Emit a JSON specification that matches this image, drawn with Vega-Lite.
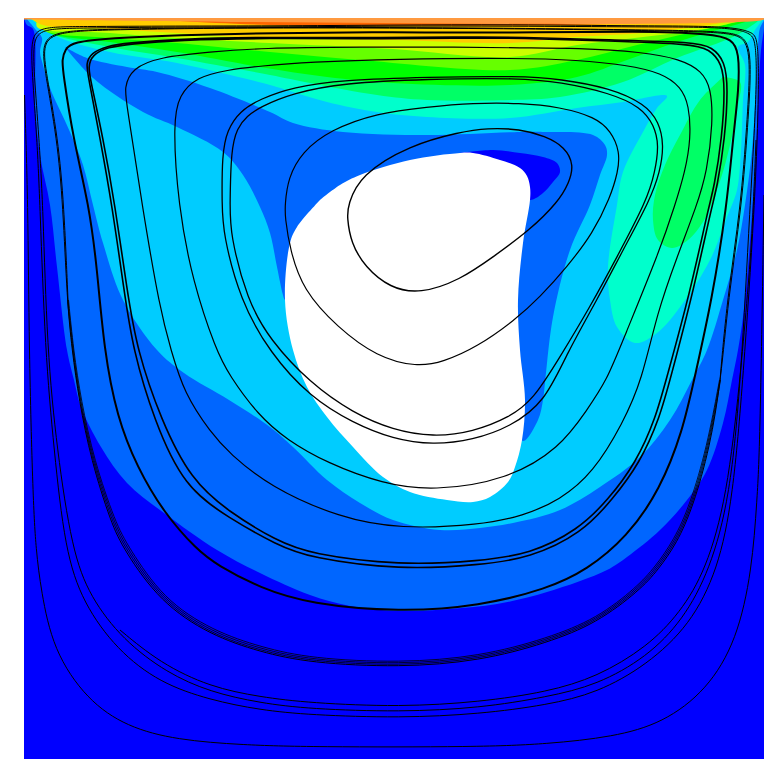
{"$schema":"https://vega.github.io/schema/vega-lite/v6.json","width":740,"height":741,"autosize":{"type":"none"},"padding":{"left":24,"top":18,"right":19,"bottom":25},"background":"white","config":{"view":{"stroke":null,"fill":"#0000ff"}},
"datasets":{"regions":[
{"p":"a","x":24,"y":18},{"p":"a","x":27,"y":25},{"p":"a","x":33,"y":29},{"p":"a","x":35,"y":105},{"p":"a","x":40,"y":155},{"p":"a","x":50,"y":205},{"p":"a","x":57,"y":267},{"p":"a","x":67,"y":350},{"p":"a","x":74,"y":380},{"p":"a","x":81,"y":407},{"p":"a","x":101,"y":447},{"p":"a","x":127,"y":483},{"p":"a","x":164,"y":513},{"p":"a","x":217,"y":550},{"p":"a","x":260,"y":573},{"p":"a","x":310,"y":595},{"p":"a","x":350,"y":606},{"p":"a","x":400,"y":611},{"p":"a","x":450,"y":609},{"p":"a","x":497,"y":604},{"p":"a","x":547,"y":592},{"p":"a","x":607,"y":570},{"p":"a","x":627,"y":557},{"p":"a","x":660,"y":530},{"p":"a","x":687,"y":500},{"p":"a","x":707,"y":470},{"p":"a","x":723,"y":423},{"p":"a","x":732,"y":380},{"p":"a","x":738,"y":350},{"p":"a","x":743,"y":317},{"p":"a","x":748,"y":267},{"p":"a","x":753,"y":200},{"p":"a","x":756,"y":150},{"p":"a","x":758,"y":100},{"p":"a","x":761,"y":50},{"p":"a","x":764,"y":28},{"p":"a","x":764,"y":18},
{"p":"b","x":26,"y":18},{"p":"b","x":36,"y":30},{"p":"b","x":42,"y":38},{"p":"b","x":40,"y":52},{"p":"b","x":43,"y":65},{"p":"b","x":50,"y":88},{"p":"b","x":70,"y":132},{"p":"b","x":83,"y":165},{"p":"b","x":93,"y":205},{"p":"b","x":103,"y":243},{"p":"b","x":123,"y":300},{"p":"b","x":157,"y":350},{"p":"b","x":184,"y":373},{"p":"b","x":229,"y":400},{"p":"b","x":270,"y":427},{"p":"b","x":293,"y":447},{"p":"b","x":327,"y":480},{"p":"b","x":360,"y":503},{"p":"b","x":393,"y":520},{"p":"b","x":440,"y":530},{"p":"b","x":480,"y":528},{"p":"b","x":513,"y":523},{"p":"b","x":560,"y":510},{"p":"b","x":600,"y":487},{"p":"b","x":640,"y":457},{"p":"b","x":670,"y":420},{"p":"b","x":692,"y":380},{"p":"b","x":707,"y":350},{"p":"b","x":723,"y":300},{"p":"b","x":737,"y":250},{"p":"b","x":745,"y":205},{"p":"b","x":752,"y":150},{"p":"b","x":755,"y":105},{"p":"b","x":758,"y":45},{"p":"b","x":760,"y":28},{"p":"b","x":764,"y":20},{"p":"b","x":764,"y":18},
{"p":"c","x":30,"y":18},{"p":"c","x":53,"y":35},{"p":"c","x":110,"y":52},{"p":"c","x":177,"y":63},{"p":"c","x":270,"y":85},{"p":"c","x":293,"y":92},{"p":"c","x":327,"y":102},{"p":"c","x":377,"y":112},{"p":"c","x":427,"y":117},{"p":"c","x":510,"y":118},{"p":"c","x":577,"y":108},{"p":"c","x":623,"y":102},{"p":"c","x":667,"y":96},{"p":"c","x":657,"y":108},{"p":"c","x":643,"y":132},{"p":"c","x":623,"y":172},{"p":"c","x":617,"y":205},{"p":"c","x":608,"y":267},{"p":"c","x":610,"y":300},{"p":"c","x":617,"y":327},{"p":"c","x":635,"y":343},{"p":"c","x":657,"y":333},{"p":"c","x":683,"y":303},{"p":"c","x":710,"y":260},{"p":"c","x":727,"y":217},{"p":"c","x":737,"y":190},{"p":"c","x":741,"y":150},{"p":"c","x":743,"y":100},{"p":"c","x":745,"y":65},{"p":"c","x":738,"y":47},{"p":"c","x":748,"y":42},{"p":"c","x":755,"y":30},{"p":"c","x":764,"y":18},
{"p":"d","x":32,"y":18},{"p":"d","x":50,"y":33},{"p":"d","x":110,"y":47},{"p":"d","x":177,"y":58},{"p":"d","x":270,"y":75},{"p":"d","x":310,"y":83},{"p":"d","x":377,"y":95},{"p":"d","x":427,"y":100},{"p":"d","x":510,"y":100},{"p":"d","x":560,"y":97},{"p":"d","x":623,"y":82},{"p":"d","x":677,"y":58},{"p":"d","x":737,"y":35},{"p":"d","x":762,"y":18},
{"p":"e","x":34,"y":18},{"p":"e","x":47,"y":32},{"p":"e","x":110,"y":42},{"p":"e","x":177,"y":52},{"p":"e","x":260,"y":67},{"p":"e","x":327,"y":77},{"p":"e","x":393,"y":83},{"p":"e","x":510,"y":85},{"p":"e","x":577,"y":77},{"p":"e","x":627,"y":60},{"p":"e","x":677,"y":42},{"p":"e","x":717,"y":30},{"p":"e","x":760,"y":18},
{"p":"f","x":36,"y":18},{"p":"f","x":43,"y":30},{"p":"f","x":110,"y":38},{"p":"f","x":177,"y":43},{"p":"f","x":270,"y":52},{"p":"f","x":360,"y":60},{"p":"f","x":510,"y":70},{"p":"f","x":577,"y":60},{"p":"f","x":637,"y":45},{"p":"f","x":693,"y":32},{"p":"f","x":755,"y":18},
{"p":"g","x":38,"y":18},{"p":"g","x":37,"y":27},{"p":"g","x":110,"y":33},{"p":"g","x":177,"y":38},{"p":"g","x":270,"y":43},{"p":"g","x":393,"y":49},{"p":"g","x":510,"y":57},{"p":"g","x":577,"y":45},{"p":"g","x":643,"y":37},{"p":"g","x":710,"y":28},{"p":"g","x":750,"y":18},
{"p":"h","x":30,"y":18},{"p":"h","x":43,"y":25},{"p":"h","x":110,"y":29},{"p":"h","x":177,"y":33},{"p":"h","x":260,"y":38},{"p":"h","x":393,"y":40},{"p":"h","x":510,"y":43},{"p":"h","x":577,"y":37},{"p":"h","x":643,"y":33},{"p":"h","x":710,"y":25},{"p":"h","x":745,"y":18},
{"p":"i","x":130,"y":18},{"p":"i","x":180,"y":21},{"p":"i","x":270,"y":25},{"p":"i","x":393,"y":25.5},{"p":"i","x":510,"y":25.5},{"p":"i","x":610,"y":24},{"p":"i","x":660,"y":22},{"p":"i","x":727,"y":19},{"p":"i","x":740,"y":18},
{"p":"j","x":24,"y":18},{"p":"j","x":764,"y":18},{"p":"j","x":764,"y":19.4},{"p":"j","x":24,"y":19.4},
{"p":"k","x":723,"y":77},{"p":"k","x":700,"y":100},{"p":"k","x":680,"y":135},{"p":"k","x":665,"y":165},{"p":"k","x":655,"y":195},{"p":"k","x":653,"y":220},{"p":"k","x":658,"y":240},{"p":"k","x":672,"y":248},{"p":"k","x":688,"y":240},{"p":"k","x":703,"y":222},{"p":"k","x":711,"y":205},{"p":"k","x":722,"y":175},{"p":"k","x":730,"y":145},{"p":"k","x":738,"y":105},{"p":"k","x":740,"y":82},{"p":"k","x":723,"y":77},
{"p":"l","x":65,"y":47},{"p":"l","x":87,"y":58},{"p":"l","x":127,"y":67},{"p":"l","x":157,"y":72},{"p":"l","x":210,"y":88},{"p":"l","x":270,"y":112},{"p":"l","x":293,"y":123},{"p":"l","x":343,"y":132},{"p":"l","x":427,"y":135},{"p":"l","x":520,"y":132},{"p":"l","x":543,"y":132},{"p":"l","x":593,"y":135},{"p":"l","x":605,"y":145},{"p":"l","x":607,"y":155},{"p":"l","x":600,"y":175},{"p":"l","x":590,"y":205},{"p":"l","x":570,"y":250},{"p":"l","x":553,"y":317},{"p":"l","x":545,"y":383},{"p":"l","x":543,"y":400},{"p":"l","x":538,"y":420},{"p":"l","x":523,"y":441},{"p":"l","x":510,"y":400},{"p":"l","x":450,"y":400},{"p":"l","x":350,"y":350},{"p":"l","x":285,"y":300},{"p":"l","x":283,"y":295},{"p":"l","x":277,"y":267},{"p":"l","x":270,"y":233},{"p":"l","x":260,"y":207},{"p":"l","x":243,"y":175},{"p":"l","x":223,"y":152},{"p":"l","x":177,"y":127},{"p":"l","x":143,"y":112},{"p":"l","x":93,"y":78},{"p":"l","x":65,"y":47},
{"p":"m","x":460,"y":153},{"p":"m","x":493,"y":150},{"p":"m","x":520,"y":153},{"p":"m","x":543,"y":157},{"p":"m","x":557,"y":163},{"p":"m","x":560,"y":172},{"p":"m","x":553,"y":182},{"p":"m","x":543,"y":193},{"p":"m","x":530,"y":200},{"p":"m","x":500,"y":190},{"p":"m","x":460,"y":153},
{"p":"n","x":320,"y":200},{"p":"n","x":340,"y":185},{"p":"n","x":360,"y":175},{"p":"n","x":410,"y":160},{"p":"n","x":460,"y":153},{"p":"n","x":473,"y":153},{"p":"n","x":500,"y":160},{"p":"n","x":520,"y":168},{"p":"n","x":527,"y":176},{"p":"n","x":530,"y":187},{"p":"n","x":530,"y":200},{"p":"n","x":523,"y":243},{"p":"n","x":518,"y":300},{"p":"n","x":520,"y":350},{"p":"n","x":525,"y":400},{"p":"n","x":522,"y":440},{"p":"n","x":515,"y":467},{"p":"n","x":508,"y":482},{"p":"n","x":490,"y":497},{"p":"n","x":473,"y":502},{"p":"n","x":447,"y":500},{"p":"n","x":410,"y":492},{"p":"n","x":383,"y":477},{"p":"n","x":353,"y":447},{"p":"n","x":327,"y":417},{"p":"n","x":307,"y":387},{"p":"n","x":293,"y":350},{"p":"n","x":285,"y":300},{"p":"n","x":290,"y":243},{"p":"n","x":297,"y":227},{"p":"n","x":320,"y":200}
],
"loops":[
{"s":"L1","x":348,"y":205},{"s":"L1","x":360,"y":175},{"s":"L1","x":410,"y":145},{"s":"L1","x":460,"y":132},{"s":"L1","x":487,"y":128},{"s":"L1","x":520,"y":129},{"s":"L1","x":545,"y":136},{"s":"L1","x":565,"y":147},{"s":"L1","x":574,"y":165},{"s":"L1","x":569,"y":183},{"s":"L1","x":558,"y":202},{"s":"L1","x":530,"y":230},{"s":"L1","x":493,"y":257},{"s":"L1","x":460,"y":280},{"s":"L1","x":420,"y":294},{"s":"L1","x":390,"y":288},{"s":"L1","x":365,"y":267},{"s":"L1","x":351,"y":243},{"s":"L1","x":347,"y":217},
{"s":"L2","x":285,"y":205},{"s":"L2","x":288,"y":178},{"s":"L2","x":302,"y":152},{"s":"L2","x":330,"y":130},{"s":"L2","x":377,"y":113},{"s":"L2","x":427,"y":107},{"s":"L2","x":473,"y":103},{"s":"L2","x":520,"y":103},{"s":"L2","x":560,"y":107},{"s":"L2","x":595,"y":117},{"s":"L2","x":611,"y":131},{"s":"L2","x":620,"y":152},{"s":"L2","x":618,"y":172},{"s":"L2","x":610,"y":198},{"s":"L2","x":593,"y":233},{"s":"L2","x":567,"y":267},{"s":"L2","x":540,"y":297},{"s":"L2","x":515,"y":320},{"s":"L2","x":477,"y":347},{"s":"L2","x":443,"y":362},{"s":"L2","x":417,"y":367},{"s":"L2","x":377,"y":357},{"s":"L2","x":337,"y":327},{"s":"L2","x":303,"y":290},{"s":"L2","x":290,"y":250},{"s":"L2","x":285,"y":217},
{"s":"L3","x":222,"y":205},{"s":"L3","x":222,"y":155},{"s":"L3","x":227,"y":130},{"s":"L3","x":240,"y":111},{"s":"L3","x":260,"y":99},{"s":"L3","x":293,"y":87},{"s":"L3","x":343,"y":80},{"s":"L3","x":427,"y":77},{"s":"L3","x":520,"y":76},{"s":"L3","x":560,"y":79},{"s":"L3","x":610,"y":88},{"s":"L3","x":645,"y":104},{"s":"L3","x":659,"y":122},{"s":"L3","x":664,"y":145},{"s":"L3","x":660,"y":172},{"s":"L3","x":650,"y":200},{"s":"L3","x":623,"y":250},{"s":"L3","x":597,"y":300},{"s":"L3","x":567,"y":353},{"s":"L3","x":545,"y":402},{"s":"L3","x":510,"y":427},{"s":"L3","x":473,"y":440},{"s":"L3","x":433,"y":445},{"s":"L3","x":393,"y":439},{"s":"L3","x":353,"y":423},{"s":"L3","x":310,"y":397},{"s":"L3","x":270,"y":353},{"s":"L3","x":240,"y":300},{"s":"L3","x":223,"y":233},
{"s":"L4","x":230,"y":205},{"s":"L4","x":231,"y":150},{"s":"L4","x":237,"y":128},{"s":"L4","x":247,"y":116},{"s":"L4","x":260,"y":107},{"s":"L4","x":293,"y":93},{"s":"L4","x":343,"y":83},{"s":"L4","x":427,"y":79},{"s":"L4","x":520,"y":78},{"s":"L4","x":560,"y":82},{"s":"L4","x":610,"y":93},{"s":"L4","x":641,"y":107},{"s":"L4","x":654,"y":125},{"s":"L4","x":659,"y":145},{"s":"L4","x":655,"y":172},{"s":"L4","x":647,"y":200},{"s":"L4","x":617,"y":257},{"s":"L4","x":590,"y":307},{"s":"L4","x":560,"y":357},{"s":"L4","x":533,"y":400},{"s":"L4","x":510,"y":417},{"s":"L4","x":473,"y":432},{"s":"L4","x":433,"y":437},{"s":"L4","x":393,"y":430},{"s":"L4","x":353,"y":413},{"s":"L4","x":310,"y":383},{"s":"L4","x":270,"y":340},{"s":"L4","x":247,"y":300},{"s":"L4","x":230,"y":233},
{"s":"L5","x":178,"y":205},{"s":"L5","x":173,"y":122},{"s":"L5","x":179,"y":95},{"s":"L5","x":197,"y":77},{"s":"L5","x":227,"y":70},{"s":"L5","x":260,"y":66},{"s":"L5","x":310,"y":62},{"s":"L5","x":393,"y":59},{"s":"L5","x":520,"y":58},{"s":"L5","x":577,"y":60},{"s":"L5","x":627,"y":65},{"s":"L5","x":662,"y":73},{"s":"L5","x":681,"y":87},{"s":"L5","x":689,"y":105},{"s":"L5","x":691,"y":138},{"s":"L5","x":685,"y":172},{"s":"L5","x":675,"y":205},{"s":"L5","x":660,"y":250},{"s":"L5","x":623,"y":340},{"s":"L5","x":607,"y":380},{"s":"L5","x":587,"y":410},{"s":"L5","x":560,"y":448},{"s":"L5","x":507,"y":480},{"s":"L5","x":433,"y":491},{"s":"L5","x":383,"y":484},{"s":"L5","x":327,"y":463},{"s":"L5","x":287,"y":440},{"s":"L5","x":258,"y":415},{"s":"L5","x":229,"y":375},{"s":"L5","x":216,"y":350},{"s":"L5","x":193,"y":283},
{"s":"L6","x":142,"y":205},{"s":"L6","x":127,"y":105},{"s":"L6","x":124,"y":88},{"s":"L6","x":132,"y":68},{"s":"L6","x":160,"y":57},{"s":"L6","x":210,"y":52},{"s":"L6","x":260,"y":48},{"s":"L6","x":360,"y":47},{"s":"L6","x":460,"y":47},{"s":"L6","x":520,"y":48},{"s":"L6","x":577,"y":48},{"s":"L6","x":643,"y":52},{"s":"L6","x":680,"y":59},{"s":"L6","x":702,"y":71},{"s":"L6","x":711,"y":88},{"s":"L6","x":713,"y":122},{"s":"L6","x":707,"y":172},{"s":"L6","x":697,"y":205},{"s":"L6","x":677,"y":257},{"s":"L6","x":657,"y":313},{"s":"L6","x":642,"y":380},{"s":"L6","x":623,"y":423},{"s":"L6","x":593,"y":473},{"s":"L6","x":560,"y":500},{"s":"L6","x":523,"y":516},{"s":"L6","x":480,"y":525},{"s":"L6","x":400,"y":529},{"s":"L6","x":340,"y":518},{"s":"L6","x":270,"y":487},{"s":"L6","x":229,"y":453},{"s":"L6","x":211,"y":433},{"s":"L6","x":184,"y":393},{"s":"L6","x":171,"y":350},{"s":"L6","x":160,"y":310},
{"s":"E","x":112,"y":205},{"s":"E","x":100,"y":138},{"s":"E","x":88,"y":75},{"s":"E","x":86,"y":64},{"s":"E","x":91,"y":53},{"s":"E","x":107,"y":46},{"s":"E","x":127,"y":43},{"s":"E","x":177,"y":39},{"s":"E","x":270,"y":37},{"s":"E","x":360,"y":38},{"s":"E","x":460,"y":37},{"s":"E","x":520,"y":37},{"s":"E","x":610,"y":40},{"s":"E","x":695,"y":42},{"s":"E","x":712,"y":47},{"s":"E","x":725,"y":61},{"s":"E","x":728,"y":88},{"s":"E","x":725,"y":138},{"s":"E","x":717,"y":188},{"s":"E","x":712,"y":205},{"s":"E","x":693,"y":293},{"s":"E","x":670,"y":380},{"s":"E","x":660,"y":417},{"s":"E","x":640,"y":463},{"s":"E","x":612,"y":500},{"s":"E","x":582,"y":533},{"s":"E","x":530,"y":558},{"s":"E","x":480,"y":565},{"s":"E","x":400,"y":570},{"s":"E","x":310,"y":558},{"s":"E","x":277,"y":545},{"s":"E","x":229,"y":518},{"s":"E","x":184,"y":487},{"s":"E","x":154,"y":420},{"s":"E","x":133,"y":350},{"s":"E","x":124,"y":290},
{"s":"F","x":115,"y":205},{"s":"F","x":103,"y":138},{"s":"F","x":91,"y":82},{"s":"F","x":88,"y":67},{"s":"F","x":92,"y":55},{"s":"F","x":108,"y":47},{"s":"F","x":130,"y":44},{"s":"F","x":177,"y":40},{"s":"F","x":270,"y":38},{"s":"F","x":360,"y":39},{"s":"F","x":460,"y":38},{"s":"F","x":520,"y":38},{"s":"F","x":610,"y":41},{"s":"F","x":692,"y":44},{"s":"F","x":709,"y":49},{"s":"F","x":722,"y":63},{"s":"F","x":725,"y":88},{"s":"F","x":722,"y":138},{"s":"F","x":714,"y":188},{"s":"F","x":709,"y":205},{"s":"F","x":690,"y":293},{"s":"F","x":666,"y":380},{"s":"F","x":656,"y":417},{"s":"F","x":636,"y":463},{"s":"F","x":608,"y":500},{"s":"F","x":578,"y":530},{"s":"F","x":530,"y":554},{"s":"F","x":480,"y":561},{"s":"F","x":400,"y":565.5},{"s":"F","x":310,"y":554},{"s":"F","x":277,"y":541},{"s":"F","x":229,"y":512},{"s":"F","x":191,"y":480},{"s":"F","x":161,"y":420},{"s":"F","x":137,"y":350},{"s":"F","x":127,"y":290},
{"s":"D","x":89,"y":205},{"s":"D","x":73,"y":138},{"s":"D","x":63,"y":72},{"s":"D","x":62,"y":60},{"s":"D","x":65,"y":49},{"s":"D","x":73,"y":42},{"s":"D","x":110,"y":38},{"s":"D","x":177,"y":35},{"s":"D","x":270,"y":33},{"s":"D","x":393,"y":32},{"s":"D","x":510,"y":33},{"s":"D","x":643,"y":31},{"s":"D","x":712,"y":34},{"s":"D","x":732,"y":39},{"s":"D","x":739,"y":52},{"s":"D","x":739,"y":88},{"s":"D","x":733,"y":138},{"s":"D","x":727,"y":205},{"s":"D","x":712,"y":300},{"s":"D","x":694,"y":380},{"s":"D","x":683,"y":430},{"s":"D","x":660,"y":490},{"s":"D","x":627,"y":537},{"s":"D","x":587,"y":570},{"s":"D","x":547,"y":589},{"s":"D","x":480,"y":606},{"s":"D","x":400,"y":612},{"s":"D","x":310,"y":604},{"s":"D","x":260,"y":588},{"s":"D","x":217,"y":565},{"s":"D","x":197,"y":550},{"s":"D","x":164,"y":513},{"s":"D","x":137,"y":467},{"s":"D","x":117,"y":417},{"s":"D","x":104,"y":350},{"s":"D","x":97,"y":267},
{"s":"C1","x":63,"y":205},{"s":"C1","x":57,"y":138},{"s":"C1","x":45,"y":72},{"s":"C1","x":42,"y":46},{"s":"C1","x":52,"y":31},{"s":"C1","x":110,"y":29},{"s":"C1","x":270,"y":27},{"s":"C1","x":510,"y":28},{"s":"C1","x":643,"y":30},{"s":"C1","x":729,"y":31},{"s":"C1","x":749,"y":38},{"s":"C1","x":751,"y":72},{"s":"C1","x":748,"y":122},{"s":"C1","x":742,"y":205},{"s":"C1","x":728,"y":300},{"s":"C1","x":721,"y":380},{"s":"C1","x":710,"y":447},{"s":"C1","x":693,"y":507},{"s":"C1","x":677,"y":543},{"s":"C1","x":658,"y":570},{"s":"C1","x":640,"y":590},{"s":"C1","x":597,"y":623},{"s":"C1","x":547,"y":643},{"s":"C1","x":480,"y":661},{"s":"C1","x":400,"y":667.5},{"s":"C1","x":310,"y":663},{"s":"C1","x":260,"y":652},{"s":"C1","x":210,"y":635},{"s":"C1","x":160,"y":602},{"s":"C1","x":124,"y":550},{"s":"C1","x":111,"y":523},{"s":"C1","x":91,"y":460},{"s":"C1","x":79,"y":400},{"s":"C1","x":72,"y":350},{"s":"C1","x":67,"y":300},
{"s":"B1","x":40,"y":205},{"s":"B1","x":37,"y":138},{"s":"B1","x":32,"y":72},{"s":"B1","x":31,"y":38},{"s":"B1","x":40,"y":27},{"s":"B1","x":77,"y":26.5},{"s":"B1","x":177,"y":26},{"s":"B1","x":270,"y":26},{"s":"B1","x":393,"y":25},{"s":"B1","x":510,"y":24.5},{"s":"B1","x":643,"y":26},{"s":"B1","x":729,"y":26},{"s":"B1","x":752,"y":32},{"s":"B1","x":758,"y":38},{"s":"B1","x":759,"y":88},{"s":"B1","x":755,"y":205},{"s":"B1","x":743,"y":380},{"s":"B1","x":733,"y":497},{"s":"B1","x":718,"y":570},{"s":"B1","x":690,"y":625},{"s":"B1","x":647,"y":665},{"s":"B1","x":597,"y":693},{"s":"B1","x":547,"y":705},{"s":"B1","x":480,"y":714},{"s":"B1","x":400,"y":718},{"s":"B1","x":310,"y":715},{"s":"B1","x":260,"y":710},{"s":"B1","x":210,"y":700},{"s":"B1","x":160,"y":683},{"s":"B1","x":117,"y":650},{"s":"B1","x":83,"y":603},{"s":"B1","x":65,"y":550},{"s":"B1","x":54,"y":450},{"s":"B1","x":45,"y":350},
{"s":"B2","x":43,"y":205},{"s":"B2","x":39,"y":138},{"s":"B2","x":34,"y":72},{"s":"B2","x":33,"y":40},{"s":"B2","x":42,"y":29},{"s":"B2","x":77,"y":28},{"s":"B2","x":177,"y":27},{"s":"B2","x":270,"y":27},{"s":"B2","x":393,"y":26},{"s":"B2","x":510,"y":26},{"s":"B2","x":643,"y":27},{"s":"B2","x":729,"y":27},{"s":"B2","x":750,"y":33},{"s":"B2","x":756,"y":40},{"s":"B2","x":757,"y":88},{"s":"B2","x":750,"y":205},{"s":"B2","x":741,"y":380},{"s":"B2","x":730,"y":497},{"s":"B2","x":710,"y":570},{"s":"B2","x":683,"y":620},{"s":"B2","x":647,"y":657},{"s":"B2","x":597,"y":685},{"s":"B2","x":547,"y":697},{"s":"B2","x":480,"y":708},{"s":"B2","x":400,"y":712},{"s":"B2","x":310,"y":709},{"s":"B2","x":260,"y":703},{"s":"B2","x":210,"y":692},{"s":"B2","x":167,"y":673},{"s":"B2","x":123,"y":640},{"s":"B2","x":90,"y":597},{"s":"B2","x":72,"y":550},{"s":"B2","x":57,"y":450},{"s":"B2","x":47,"y":350}
],
"open":[
{"s":"C2","x":67.5,"y":300},{"s":"C2","x":72.5,"y":350},{"s":"C2","x":79.5,"y":400},{"s":"C2","x":92,"y":460},{"s":"C2","x":112.5,"y":523},{"s":"C2","x":125.5,"y":549},{"s":"C2","x":161,"y":601},{"s":"C2","x":211,"y":634},{"s":"C2","x":260,"y":650.5},{"s":"C2","x":310,"y":661.5},{"s":"C2","x":400,"y":666},{"s":"C2","x":480,"y":659.5},{"s":"C2","x":547,"y":641.5},{"s":"C2","x":597,"y":621.5},{"s":"C2","x":639,"y":589},{"s":"C2","x":657,"y":569},{"s":"C2","x":676,"y":542},{"s":"C2","x":692,"y":506.5},{"s":"C2","x":709,"y":447},{"s":"C2","x":720.5,"y":380},
{"s":"C3","x":68,"y":300},{"s":"C3","x":73,"y":350},{"s":"C3","x":80,"y":400},{"s":"C3","x":93,"y":460},{"s":"C3","x":114,"y":523},{"s":"C3","x":127,"y":548},{"s":"C3","x":162,"y":600},{"s":"C3","x":212,"y":632.5},{"s":"C3","x":261,"y":649},{"s":"C3","x":310,"y":660},{"s":"C3","x":400,"y":664.5},{"s":"C3","x":480,"y":658},{"s":"C3","x":547,"y":640},{"s":"C3","x":597,"y":620},{"s":"C3","x":638,"y":588},{"s":"C3","x":656,"y":568},{"s":"C3","x":675,"y":541},{"s":"C3","x":691,"y":506},{"s":"C3","x":708,"y":447},{"s":"C3","x":720,"y":380},
{"s":"C4","x":68.5,"y":300},{"s":"C4","x":73.5,"y":350},{"s":"C4","x":81,"y":400},{"s":"C4","x":94,"y":460},{"s":"C4","x":115.5,"y":523},{"s":"C4","x":128.5,"y":547},{"s":"C4","x":163,"y":599},{"s":"C4","x":213,"y":631},{"s":"C4","x":262,"y":647.5},{"s":"C4","x":311,"y":658.5},{"s":"C4","x":400,"y":663},{"s":"C4","x":480,"y":656.5},{"s":"C4","x":547,"y":638.5},{"s":"C4","x":597,"y":618.5},{"s":"C4","x":637,"y":587},{"s":"C4","x":655,"y":567},{"s":"C4","x":674,"y":540},{"s":"C4","x":690,"y":505},{"s":"C4","x":707,"y":447},{"s":"C4","x":719.5,"y":380},
{"s":"C5","x":68,"y":300},{"s":"C5","x":64,"y":205},{"s":"C5","x":58,"y":138},{"s":"C5","x":46,"y":72},{"s":"C5","x":43,"y":47},{"s":"C5","x":52,"y":32},{"s":"C5","x":110,"y":29.5},{"s":"C5","x":270,"y":27.5},{"s":"C5","x":510,"y":28.5},{"s":"C5","x":643,"y":30.5},{"s":"C5","x":728,"y":32},{"s":"C5","x":748,"y":38.5},{"s":"C5","x":750,"y":72},{"s":"C5","x":747,"y":122},{"s":"C5","x":741,"y":205},{"s":"C5","x":727,"y":300},{"s":"C5","x":720,"y":380},
{"s":"B3","x":120,"y":630},{"s":"B3","x":160,"y":663},{"s":"B3","x":210,"y":687},{"s":"B3","x":260,"y":697},{"s":"B3","x":310,"y":703},{"s":"B3","x":400,"y":707},{"s":"B3","x":480,"y":702},{"s":"B3","x":547,"y":692},{"s":"B3","x":597,"y":677},{"s":"B3","x":647,"y":647},{"s":"B3","x":680,"y":613},{"s":"B3","x":706,"y":570},{"s":"B3","x":727,"y":497},{"s":"B3","x":740,"y":380},{"s":"B3","x":747,"y":300},{"s":"B3","x":752,"y":240},{"s":"B3","x":756,"y":140},
{"s":"A","x":24.5,"y":95},{"s":"A","x":28,"y":200},{"s":"A","x":29,"y":350},{"s":"A","x":33,"y":500},{"s":"A","x":36,"y":550},{"s":"A","x":41,"y":590},{"s":"A","x":53,"y":650},{"s":"A","x":87,"y":700},{"s":"A","x":127,"y":727},{"s":"A","x":177,"y":740},{"s":"A","x":243,"y":745},{"s":"A","x":310,"y":747},{"s":"A","x":480,"y":747},{"s":"A","x":547,"y":744},{"s":"A","x":613,"y":737},{"s":"A","x":663,"y":723},{"s":"A","x":707,"y":690},{"s":"A","x":737,"y":640},{"s":"A","x":752,"y":570},{"s":"A","x":757,"y":500},{"s":"A","x":760,"y":447},{"s":"A","x":764,"y":195}
]},
"layer":[
{"data":{"name":"regions"},"mark":{"type":"line","interpolate":"catmull-rom","clip":true,"filled":true,"strokeWidth":0},
"encoding":{"x":{"field":"x","type":"quantitative","scale":{"domain":[24,764],"nice":false,"zero":false},"axis":null},"y":{"field":"y","type":"quantitative","scale":{"domain":[18,759],"nice":false,"zero":false,"reverse":true},"axis":null},"order":{"value":null},"fill":{"field":"p","type":"nominal","sort":null,"legend":null,"scale":{"domain":["a","b","c","d","e","f","g","h","i","j","k","l","m","n"],"range":["#0066ff","#00ccff","#00ffcc","#00ff66","#00ff00","#66ff00","#ccff00","#ffcc00","#ff6600","#ff9a40","#00ff66","#0066ff","#0000ff","#ffffff"]}}}},
{"data":{"name":"loops"},"mark":{"type":"line","interpolate":"basis-closed","clip":true,"color":"#000000"},
"encoding":{"x":{"field":"x","type":"quantitative","scale":{"domain":[24,764],"nice":false,"zero":false},"axis":null},"y":{"field":"y","type":"quantitative","scale":{"domain":[18,759],"nice":false,"zero":false,"reverse":true},"axis":null},"order":{"value":null},"detail":{"field":"s","type":"nominal"},"strokeWidth":{"field":"s","type":"nominal","legend":null,"scale":{"type":"ordinal","domain":["L1","L2","L3","L4","L5","L6","E","F","D","C1","B1","B2"],"range":[1.4,1.2,1.3,1.3,1.2,1.2,1.6,1.6,2,1,1,1]}}}},
{"data":{"name":"open"},"mark":{"type":"line","interpolate":"basis","clip":true,"color":"#000000"},
"encoding":{"x":{"field":"x","type":"quantitative","scale":{"domain":[24,764],"nice":false,"zero":false},"axis":null},"y":{"field":"y","type":"quantitative","scale":{"domain":[18,759],"nice":false,"zero":false,"reverse":true},"axis":null},"order":{"value":null},"detail":{"field":"s","type":"nominal"},"strokeWidth":{"field":"s","type":"nominal","legend":null,"scale":{"type":"ordinal","domain":["C2","C3","C4","C5","B3","A"],"range":[0.8,0.8,0.8,1,1,1]}}}}
],"resolve":{"scale":{"strokeWidth":"independent"}}}
